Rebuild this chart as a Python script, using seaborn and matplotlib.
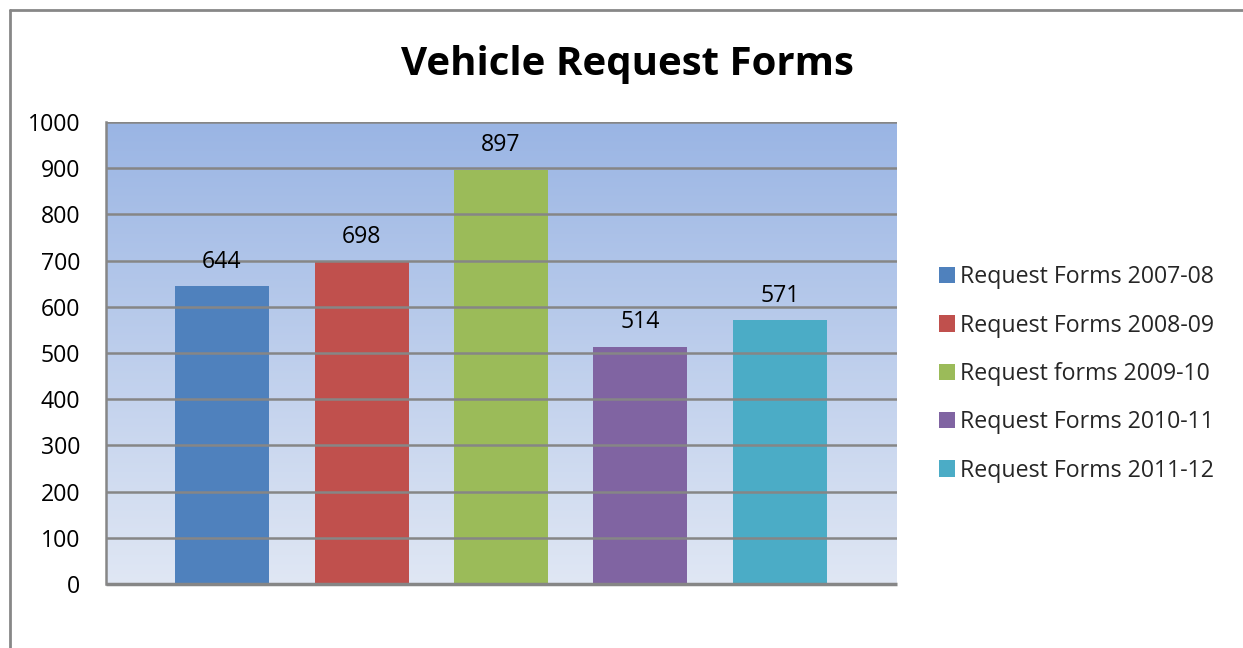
import numpy as np
import pandas as pd
import matplotlib
matplotlib.use("Agg")
import matplotlib.pyplot as plt
import seaborn as sns
from matplotlib.colors import LinearSegmentedColormap
from matplotlib.lines import Line2D
from matplotlib.patches import Patch

# ---- data ----
series = ["Request Forms 2007-08", "Request Forms 2008-09", "Request forms 2009-10",
          "Request Forms 2010-11", "Request Forms 2011-12"]
values = [644, 698, 897, 514, 571]
colors = ["#4F81BD", "#C0504D", "#9BBB59", "#8064A2", "#4BACC6"]
yticks = list(range(0, 1001, 100))
title = "Vehicle Request Forms"

sns.set_theme(style="white")
plt.rcParams['font.family'] = ['Open Sans', 'DejaVu Sans']

FS = 16.7
W, H = 1243, 648
fig = plt.figure(figsize=(W / 100, H / 100), dpi=100)
fig.patch.set_facecolor("white")
ax = fig.add_axes([106 / W, 1 - 584 / H, (897 - 106) / W, (584 - 122) / H])

df = pd.DataFrame({"series": series, "value": values})
sns.barplot(data=df, x="series", y="value", hue="series", palette=colors,
            width=0.674, saturation=1, legend=False, ax=ax, zorder=2,
            linewidth=0, edgecolor="none")

# gradient plot-area background
cmap = LinearSegmentedColormap.from_list("bg", ["#E0E7F4", "#9AB5E4"])
grad = np.linspace(0, 1, 256).reshape(-1, 1)
ax.imshow(grad, cmap=cmap, extent=[0, 1, 0, 1], transform=ax.transAxes,
          aspect="auto", origin="lower", zorder=0)
ax.set_facecolor("none")

ax.set_xlim(-0.832, 4.839)
ax.set_ylim(0, 1000)
ax.set_yticks(yticks)
ax.set_xticks([])
ax.set_xlabel("")
ax.set_ylabel("")
ax.yaxis.grid(True, color="#868686", linewidth=1.8)
ax.set_axisbelow(False)
for gl in ax.get_ygridlines():
    gl.set_zorder(1)
ax.tick_params(axis="y", length=0, pad=18.7, labelsize=FS, labelcolor="black")

for s in ["top", "right"]:
    ax.spines[s].set_visible(False)
ax.spines["left"].set_color("#868686")
ax.spines["left"].set_linewidth(1.8)
ax.spines["bottom"].set_color("#868686")
ax.spines["bottom"].set_linewidth(2.5)
ax.spines["bottom"].set_capstyle("butt")

for c in ax.containers:
    ax.bar_label(c, padding=9, fontsize=FS, color="black")

fig.text(627 / W, 1 - 65 / H, title, ha="center", va="center",
         fontsize=29, fontweight="bold", color="black")

handles = [Patch(facecolor=col, edgecolor="none", label=lab) for col, lab in zip(colors, series)]
fig.legend(handles=handles, loc="center left", bbox_to_anchor=(939 / W, 1 - 374 / H),
           frameon=False, fontsize=FS, handlelength=0.7, handleheight=0.7,
           handletextpad=0.2, labelspacing=1.05, borderpad=0, borderaxespad=0)

# chart border (left and top only visible)
fig.add_artist(Line2D([10 / W, 10 / W], [0, 1 - 10 / H], transform=fig.transFigure,
                      color="#878787", linewidth=2))
fig.add_artist(Line2D([10 / W, 1], [1 - 10 / H, 1 - 10 / H], transform=fig.transFigure,
                      color="#878787", linewidth=2))

fig.savefig("out.png", dpi=100)
